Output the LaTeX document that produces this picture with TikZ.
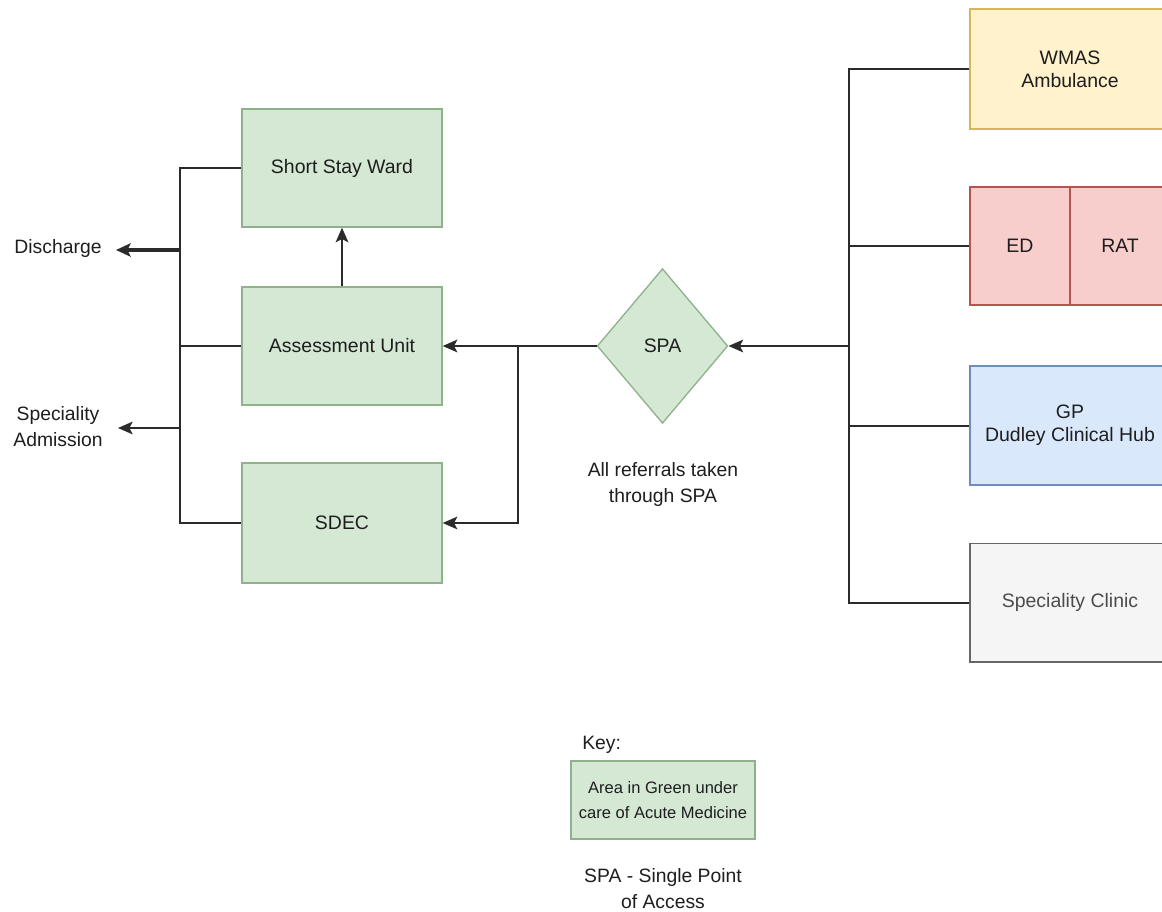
\documentclass[tikz,border=0pt]{standalone}
\usepackage{fontspec}
\setmainfont{Liberation Sans}
\usetikzlibrary{shapes.geometric,arrows.meta}
\definecolor{gfill}{HTML}{D5E8D4}
\definecolor{gline}{HTML}{8FB28C}
\definecolor{yfill}{HTML}{FFF2CC}
\definecolor{yline}{HTML}{D6B656}
\definecolor{rfill}{HTML}{F8CECC}
\definecolor{rline}{HTML}{B85450}
\definecolor{bfill}{HTML}{DAE8FC}
\definecolor{bline}{HTML}{6C8EBF}
\definecolor{sfill}{HTML}{F5F5F5}
\definecolor{sline}{HTML}{666666}
\definecolor{conn}{HTML}{2B2B2B}
\definecolor{ink}{HTML}{1E1E1E}
\tikzset{
  box/.style={draw, line width=1pt, minimum width=150pt, minimum height=88.5pt, align=center, inner sep=2pt, text=ink, font=\fontsize{14.6}{17.5}\selectfont},
  greenbox/.style={box, fill=gfill, draw=gline},
  txt/.style={align=center, inner sep=0pt, text=ink, font=\fontsize{14.5}{19.5}\selectfont},
  conline/.style={draw=conn, line width=1.5pt},
  arr/.style={conline, -{Stealth[length=11pt,width=9.5pt,inset=2.5pt]}},
  thickarr/.style={draw=conn, line width=2.4pt, -{Stealth[length=11pt,width=10pt,inset=2.5pt]}}
}
\begin{document}
\begin{tikzpicture}[x=0.75pt,y=-0.75pt]
\clip (0,0) rectangle (1162,912);
\fill[white] (0,0) rectangle (1162,912);

% green boxes
\node[greenbox] (ssw) at (342,168) {Short Stay Ward};
\node[greenbox] (au) at (342,346) {Assessment Unit};
\node[greenbox, minimum height=90pt] (sdec) at (342,523) {SDEC};

% SPA diamond
\node[diamond, draw=gline, fill=gfill, line width=1pt, minimum width=98pt, minimum height=116pt, inner sep=0pt, text=ink, font=\fontsize{14.6}{17.5}\selectfont] (spa) at (662.5,346) {SPA};
\node[txt] (spatxt) at (663,484) {All referrals taken\\through SPA};

% right boxes
\node[box, fill=yfill, draw=yline, minimum height=90pt] (wmas) at (1070,69) {WMAS\\Ambulance};
\node[box, fill=rfill, draw=rline, minimum width=75pt] (ed) at (1020,246) {ED};
\node[box, fill=rfill, draw=rline, minimum width=75pt] (rat) at (1120,246) {RAT};
\node[box, fill=bfill, draw=bline, minimum height=89pt] (gp) at (1070,425.5) {GP\\Dudley Clinical Hub};
\node[box, fill=sfill, draw=sline, text=sline!75!black, minimum height=89pt] (sc) at (1070,602.5) {Speciality Clinic};

% left labels
\node[txt] (dis) at (58,249) {Discharge};
\node[txt] (spadm) at (58,427) {Speciality\\Admission};

% key
\node[txt, anchor=west] (key) at (582,745) {Key:};
\node[draw=gline, fill=gfill, line width=1pt, minimum width=138pt, minimum height=58.5pt, align=center, inner sep=0pt, text=ink, font=\fontsize{12.4}{19}\selectfont] (keybox) at (663,800) {Area in Green under\\care of Acute Medicine};
\node[txt] (keyspa) at (663,889) {SPA - Single Point\\of Access};

% coordinates
\coordinate (rb) at (849,346);
\coordinate (lj) at (518,346);
\coordinate (lbd) at (180,250);
\coordinate (lbs) at (180,428);
\coordinate (dtip) at (116,250);
\coordinate (stip) at (118,428);

% right bus
\draw[conline] (wmas.west) -| (rb) |- (sc.west);
\draw[conline] (ed.west) -- (ed.west -| rb);
\draw[conline] (gp.west) -- (gp.west -| rb);
\draw[arr] (rb) -- (spa.east);

% SPA to units
\draw[arr] (spa.west) -- (au.east);
\draw[arr] (lj) |- (sdec.east);

% AU to SSW
\draw[arr] (au.north) -- (ssw.south);

% left bus
\draw[conline] (ssw.west) -| (lbd) |- (sdec.west);
\draw[conline] (au.west) -- (au.west -| lbd);
\draw[thickarr] (lbd) -- (dtip);
\draw[arr] (lbs) -- (stip);
\end{tikzpicture}
\end{document}
